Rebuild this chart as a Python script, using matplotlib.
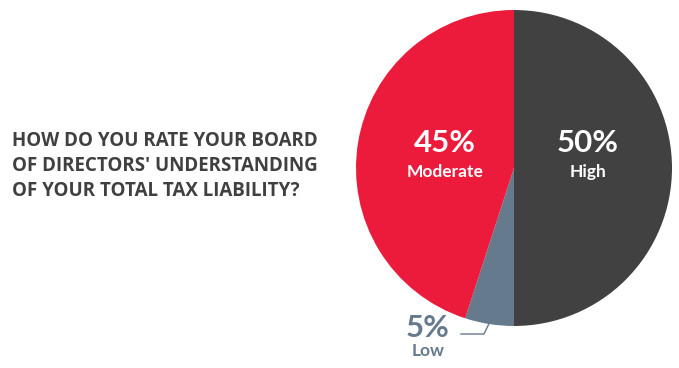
import matplotlib
matplotlib.use("Agg")
import matplotlib.pyplot as plt
import numpy as np

# data
labels = ["High", "Low", "Moderate"]
values = [50, 5, 45]
colors = ["#414141", "#667a8e", "#ec1a3b"]
title_lines = ["HOW DO YOU RATE YOUR BOARD",
               "OF DIRECTORS' UNDERSTANDING",
               "OF YOUR TOTAL TAX LIABILITY?"]

W, H = 679, 368
fig = plt.figure(figsize=(W / 100, H / 100), dpi=100, facecolor="white")

# pie axes: center (514,168) px, radius 158 px
cx, cy, r = 514, 168, 158
ax = fig.add_axes([(cx - r) / W, (H - cy - r) / H, 2 * r / W, 2 * r / H])
ax.pie(values, colors=colors, startangle=90, counterclock=False,
       radius=1.0, wedgeprops=dict(linewidth=0))
ax.set_xlim(-1, 1)
ax.set_ylim(-1, 1)
ax.set_aspect("equal")
ax.axis("off")

FONT = "Lato"

# labels for High and Moderate inside the slices
def pct_label(x, y, pct, name, color):
    ax.text(x, y, f"{pct}%", ha="center", va="center", color=color,
            fontsize=22.5, fontweight="bold", family=FONT)
    ax.text(x, y - 0.185, name, ha="center", va="center", color=color,
            fontsize=12.5, fontweight="bold", family=FONT)

pct_label((588 - cx) / r, (cy - 143) / r, values[0], labels[0], "white")
pct_label((445 - cx) / r, (cy - 143) / r, values[2], labels[2], "white")

# Low label outside with leader line
lx, ly = (428 - cx) / r, (cy - 328) / r
ax.text(lx, ly, f"{values[1]}%", ha="center", va="center", color=colors[1],
        fontsize=22.5, fontweight="bold", family=FONT, clip_on=False)
ax.text(lx, ly - 0.148, labels[1], ha="center", va="center", color=colors[1],
        fontsize=12.5, fontweight="bold", family=FONT, clip_on=False)

# leader from the Low wedge edge
ang = np.deg2rad(90 - 360 * (values[0] + values[1] / 2) / 100)
x0, y0 = np.cos(ang) * 0.99, np.sin(ang) * 0.99
ax.plot([x0, (484 - cx) / r, (461 - cx) / r],
        [y0, (cy - 334) / r, (cy - 334) / r],
        color=colors[1], lw=1.0, clip_on=False)

# question text
for i, line in enumerate(title_lines):
    fig.text(12 / W, 1 - (141.5 + i * 24.7) / H, line, ha="left", va="center",
             color="#404040", fontsize=13.5, fontweight="bold", family="Open Sans")

fig.savefig("out.png", dpi=100, facecolor="white")
